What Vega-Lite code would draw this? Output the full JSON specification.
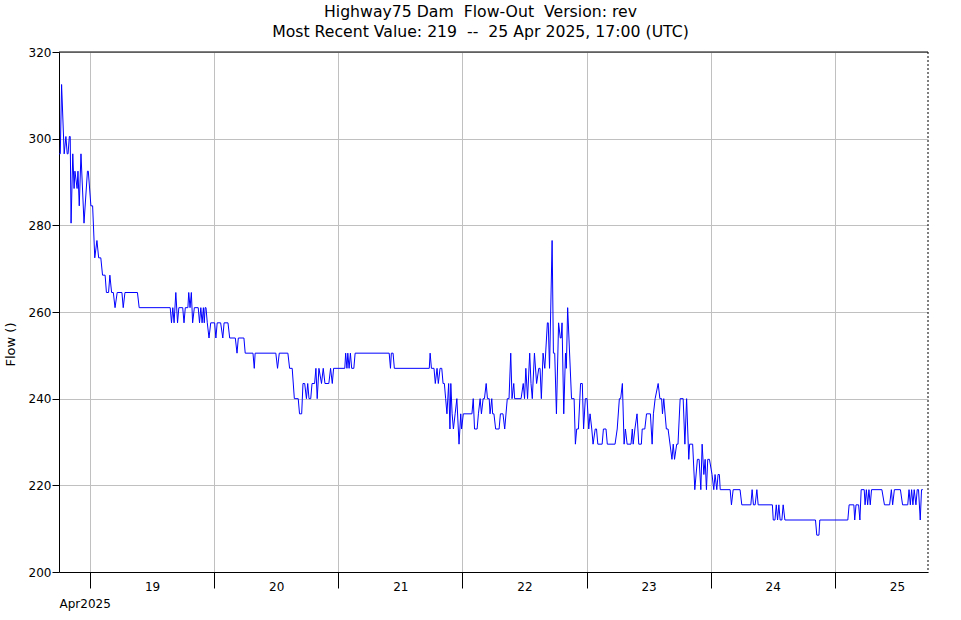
{
"$schema": "https://vega.github.io/schema/vega-lite/v6.json",
"width": 869, "height": 520,
"autosize": {"type": "none"},
"padding": {"left": 59, "top": 52, "right": 33, "bottom": 48},
"background": "white",
"title": {"text": ["Highway75 Dam\u00a0 Flow-Out\u00a0 Version: rev", "Most Recent Value: 219\u00a0 --\u00a0 25 Apr 2025, 17:00 (UTC)"], "font": "DejaVu Sans", "fontSize": 15.7, "fontWeight": "normal", "color": "black", "lineHeight": 20, "anchor": "middle", "frame": "group", "dx": -13, "offset": 5},
"config": {
 "view": {"stroke": null},
 "axis": {"domainColor": "black", "tickColor": "black", "gridColor": "#c0c0c0", "gridOpacity": 1, "gridWidth": 1, "labelColor": "black", "labelFont": "DejaVu Sans", "labelFontSize": 12, "titleFont": "DejaVu Sans", "titleFontSize": 12, "titleFontWeight": "normal", "titleColor": "black", "domainWidth": 1, "tickWidth": 1}
},
"data": {"format": {"parse": {"t": "utc:'%Y-%m-%d %H:%M'"}}, "values": [
{"t":"2025-04-18 18:00","v":296.5},{"t":"2025-04-18 18:15","v":296.5},{"t":"2025-04-18 18:30","v":312.5},{"t":"2025-04-18 19:00","v":296.5},{"t":"2025-04-18 19:20","v":300.5},{"t":"2025-04-18 19:35","v":296.5},{"t":"2025-04-18 19:45","v":296.5},{"t":"2025-04-18 20:00","v":300.5},{"t":"2025-04-18 20:10","v":300.5},{"t":"2025-04-18 20:20","v":280.5},{"t":"2025-04-18 20:40","v":296.5},{"t":"2025-04-18 20:55","v":288.5},{"t":"2025-04-18 21:05","v":292.5},{"t":"2025-04-18 21:30","v":288.5},{"t":"2025-04-18 21:40","v":292.5},{"t":"2025-04-18 21:55","v":284.5},{"t":"2025-04-18 22:15","v":296.5},{"t":"2025-04-18 22:50","v":280.5},{"t":"2025-04-18 23:30","v":292.5},{"t":"2025-04-18 23:40","v":292.5},
{"t":"2025-04-19 00:10","v":284.5},{"t":"2025-04-19 00:30","v":284.5},{"t":"2025-04-19 00:55","v":272.5},{"t":"2025-04-19 01:20","v":276.5},{"t":"2025-04-19 01:40","v":272.5},{"t":"2025-04-19 02:05","v":272.5},{"t":"2025-04-19 02:25","v":268.5},{"t":"2025-04-19 02:55","v":268.5},{"t":"2025-04-19 03:10","v":264.5},{"t":"2025-04-19 03:35","v":264.5},{"t":"2025-04-19 03:50","v":268.5},{"t":"2025-04-19 04:10","v":264.5},{"t":"2025-04-19 04:30","v":264.5},{"t":"2025-04-19 04:50","v":261},{"t":"2025-04-19 05:15","v":264.5},{"t":"2025-04-19 06:10","v":264.5},{"t":"2025-04-19 06:25","v":261},{"t":"2025-04-19 06:45","v":264.5},{"t":"2025-04-19 09:10","v":264.5},{"t":"2025-04-19 09:30","v":261},{"t":"2025-04-19 15:30","v":261},{"t":"2025-04-19 15:45","v":257.5},{"t":"2025-04-19 16:00","v":261},{"t":"2025-04-19 16:15","v":257.5},{"t":"2025-04-19 16:35","v":264.5},{"t":"2025-04-19 16:55","v":257.5},{"t":"2025-04-19 17:10","v":261},{"t":"2025-04-19 17:55","v":261},{"t":"2025-04-19 18:10","v":257.5},{"t":"2025-04-19 18:25","v":261},{"t":"2025-04-19 18:55","v":261},{"t":"2025-04-19 19:05","v":264.5},{"t":"2025-04-19 19:20","v":261},{"t":"2025-04-19 19:35","v":264.5},{"t":"2025-04-19 19:50","v":257.5},{"t":"2025-04-19 20:10","v":261},{"t":"2025-04-19 20:55","v":261},{"t":"2025-04-19 21:10","v":257.5},{"t":"2025-04-19 21:25","v":261},{"t":"2025-04-19 21:40","v":257.5},{"t":"2025-04-19 21:55","v":261},{"t":"2025-04-19 22:05","v":257.5},{"t":"2025-04-19 22:15","v":261},{"t":"2025-04-19 22:25","v":261},{"t":"2025-04-19 22:40","v":257.5},{"t":"2025-04-19 23:00","v":254},{"t":"2025-04-19 23:20","v":257.5},
{"t":"2025-04-20 00:05","v":257.5},{"t":"2025-04-20 00:20","v":254},{"t":"2025-04-20 00:35","v":257.5},{"t":"2025-04-20 01:15","v":257.5},{"t":"2025-04-20 01:40","v":254},{"t":"2025-04-20 01:55","v":257.5},{"t":"2025-04-20 02:40","v":257.5},{"t":"2025-04-20 03:00","v":254},{"t":"2025-04-20 04:05","v":254},{"t":"2025-04-20 04:25","v":250.5},{"t":"2025-04-20 04:40","v":254},{"t":"2025-04-20 05:45","v":254},{"t":"2025-04-20 06:00","v":250.5},{"t":"2025-04-20 07:30","v":250.5},{"t":"2025-04-20 07:45","v":247},{"t":"2025-04-20 07:55","v":250.5},{"t":"2025-04-20 11:55","v":250.5},{"t":"2025-04-20 12:15","v":247},{"t":"2025-04-20 12:35","v":250.5},{"t":"2025-04-20 14:15","v":250.5},{"t":"2025-04-20 14:35","v":247},{"t":"2025-04-20 15:05","v":247},{"t":"2025-04-20 15:30","v":240},{"t":"2025-04-20 16:15","v":240},{"t":"2025-04-20 16:30","v":236.5},{"t":"2025-04-20 16:55","v":236.5},{"t":"2025-04-20 17:10","v":243.5},{"t":"2025-04-20 17:30","v":243.5},{"t":"2025-04-20 17:50","v":240},{"t":"2025-04-20 18:05","v":243.5},{"t":"2025-04-20 18:20","v":240},{"t":"2025-04-20 18:40","v":240},{"t":"2025-04-20 18:55","v":243.5},{"t":"2025-04-20 19:25","v":243.5},{"t":"2025-04-20 19:40","v":247},{"t":"2025-04-20 19:55","v":240},{"t":"2025-04-20 20:15","v":247},{"t":"2025-04-20 20:45","v":243.5},{"t":"2025-04-20 21:05","v":247},{"t":"2025-04-20 21:25","v":243.5},{"t":"2025-04-20 22:10","v":243.5},{"t":"2025-04-20 22:30","v":247},{"t":"2025-04-20 22:50","v":243.5},{"t":"2025-04-20 23:05","v":247},
{"t":"2025-04-21 01:15","v":247},{"t":"2025-04-21 01:25","v":250.5},{"t":"2025-04-21 01:40","v":247},{"t":"2025-04-21 01:50","v":250.5},{"t":"2025-04-21 02:05","v":247},{"t":"2025-04-21 02:20","v":250.5},{"t":"2025-04-21 02:35","v":247},{"t":"2025-04-21 03:00","v":247},{"t":"2025-04-21 03:15","v":250.5},{"t":"2025-04-21 09:50","v":250.5},{"t":"2025-04-21 10:05","v":247},{"t":"2025-04-21 10:15","v":250.5},{"t":"2025-04-21 10:35","v":250.5},{"t":"2025-04-21 10:50","v":247},{"t":"2025-04-21 17:35","v":247},{"t":"2025-04-21 17:45","v":250.5},{"t":"2025-04-21 18:00","v":247},{"t":"2025-04-21 18:30","v":247},{"t":"2025-04-21 18:45","v":243.5},{"t":"2025-04-21 19:05","v":247},{"t":"2025-04-21 19:20","v":243.5},{"t":"2025-04-21 19:40","v":247},{"t":"2025-04-21 20:00","v":247},{"t":"2025-04-21 20:15","v":243.5},{"t":"2025-04-21 20:30","v":243.5},{"t":"2025-04-21 20:45","v":240},{"t":"2025-04-21 21:00","v":236.5},{"t":"2025-04-21 21:20","v":243.5},{"t":"2025-04-21 21:35","v":233},{"t":"2025-04-21 21:45","v":243.5},{"t":"2025-04-21 22:00","v":236.5},{"t":"2025-04-21 22:15","v":233},{"t":"2025-04-21 22:35","v":236.5},{"t":"2025-04-21 22:55","v":240},{"t":"2025-04-21 23:20","v":229.5},{"t":"2025-04-21 23:40","v":236.5},{"t":"2025-04-21 23:50","v":233},
{"t":"2025-04-22 00:10","v":236.5},{"t":"2025-04-22 01:50","v":236.5},{"t":"2025-04-22 02:05","v":240},{"t":"2025-04-22 02:20","v":233},{"t":"2025-04-22 02:50","v":233},{"t":"2025-04-22 03:05","v":236.5},{"t":"2025-04-22 03:25","v":240},{"t":"2025-04-22 03:40","v":236.5},{"t":"2025-04-22 04:00","v":240},{"t":"2025-04-22 04:15","v":240},{"t":"2025-04-22 04:35","v":243.5},{"t":"2025-04-22 04:50","v":240},{"t":"2025-04-22 05:10","v":240},{"t":"2025-04-22 05:20","v":236.5},{"t":"2025-04-22 05:40","v":240},{"t":"2025-04-22 05:50","v":236.5},{"t":"2025-04-22 06:05","v":236.5},{"t":"2025-04-22 06:25","v":233},{"t":"2025-04-22 07:05","v":233},{"t":"2025-04-22 07:20","v":236.5},{"t":"2025-04-22 07:50","v":236.5},{"t":"2025-04-22 08:10","v":233},{"t":"2025-04-22 08:40","v":240},{"t":"2025-04-22 09:00","v":240},{"t":"2025-04-22 09:20","v":250.5},{"t":"2025-04-22 09:35","v":240},{"t":"2025-04-22 09:55","v":243.5},{"t":"2025-04-22 10:05","v":240},{"t":"2025-04-22 11:20","v":240},{"t":"2025-04-22 11:45","v":243.5},{"t":"2025-04-22 12:00","v":240},{"t":"2025-04-22 12:15","v":247},{"t":"2025-04-22 12:35","v":240},{"t":"2025-04-22 13:00","v":250.5},{"t":"2025-04-22 13:15","v":243.5},{"t":"2025-04-22 13:30","v":240},{"t":"2025-04-22 13:55","v":250.5},{"t":"2025-04-22 14:20","v":243.5},{"t":"2025-04-22 14:45","v":247},{"t":"2025-04-22 15:00","v":247},{"t":"2025-04-22 15:15","v":240},{"t":"2025-04-22 15:35","v":250.5},{"t":"2025-04-22 15:55","v":247},{"t":"2025-04-22 16:25","v":257.5},{"t":"2025-04-22 16:35","v":257.5},{"t":"2025-04-22 16:50","v":247},{"t":"2025-04-22 17:20","v":276.5},{"t":"2025-04-22 17:35","v":250.5},{"t":"2025-04-22 17:50","v":250.5},{"t":"2025-04-22 18:10","v":236.5},{"t":"2025-04-22 18:35","v":257.5},{"t":"2025-04-22 18:55","v":254},{"t":"2025-04-22 19:05","v":254},{"t":"2025-04-22 19:15","v":257.5},{"t":"2025-04-22 19:35","v":236.5},{"t":"2025-04-22 19:55","v":250.5},{"t":"2025-04-22 20:05","v":247},{"t":"2025-04-22 20:20","v":261},{"t":"2025-04-22 21:05","v":240},{"t":"2025-04-22 21:35","v":240},{"t":"2025-04-22 21:50","v":229.5},{"t":"2025-04-22 22:05","v":233},{"t":"2025-04-22 22:25","v":233},{"t":"2025-04-22 22:50","v":243.5},{"t":"2025-04-22 23:10","v":243.5},{"t":"2025-04-22 23:25","v":233},{"t":"2025-04-22 23:45","v":240},
{"t":"2025-04-23 00:05","v":240},{"t":"2025-04-23 00:25","v":233},{"t":"2025-04-23 00:40","v":236.5},{"t":"2025-04-23 01:00","v":233},{"t":"2025-04-23 01:15","v":229.5},{"t":"2025-04-23 01:40","v":233},{"t":"2025-04-23 01:55","v":233},{"t":"2025-04-23 02:10","v":229.5},{"t":"2025-04-23 03:00","v":229.5},{"t":"2025-04-23 03:15","v":233},{"t":"2025-04-23 03:45","v":233},{"t":"2025-04-23 04:00","v":229.5},{"t":"2025-04-23 05:30","v":229.5},{"t":"2025-04-23 05:55","v":233},{"t":"2025-04-23 06:20","v":240},{"t":"2025-04-23 06:35","v":240},{"t":"2025-04-23 06:55","v":243.5},{"t":"2025-04-23 07:15","v":229.5},{"t":"2025-04-23 07:30","v":233},{"t":"2025-04-23 07:50","v":229.5},{"t":"2025-04-23 08:35","v":229.5},{"t":"2025-04-23 08:50","v":233},{"t":"2025-04-23 09:00","v":229.5},{"t":"2025-04-23 09:20","v":233},{"t":"2025-04-23 09:45","v":236.5},{"t":"2025-04-23 10:05","v":229.5},{"t":"2025-04-23 10:35","v":229.5},{"t":"2025-04-23 10:45","v":233},{"t":"2025-04-23 11:15","v":233},{"t":"2025-04-23 11:35","v":236.5},{"t":"2025-04-23 12:20","v":236.5},{"t":"2025-04-23 12:40","v":229.5},{"t":"2025-04-23 12:55","v":236.5},{"t":"2025-04-23 13:15","v":240},{"t":"2025-04-23 13:50","v":243.5},{"t":"2025-04-23 14:10","v":240},{"t":"2025-04-23 14:30","v":240},{"t":"2025-04-23 14:40","v":236.5},{"t":"2025-04-23 14:55","v":240},{"t":"2025-04-23 15:25","v":233},{"t":"2025-04-23 15:45","v":233},{"t":"2025-04-23 16:30","v":226},{"t":"2025-04-23 16:45","v":229.5},{"t":"2025-04-23 17:00","v":226},{"t":"2025-04-23 17:25","v":229.5},{"t":"2025-04-23 17:40","v":229.5},{"t":"2025-04-23 18:05","v":240},{"t":"2025-04-23 18:40","v":240},{"t":"2025-04-23 19:00","v":229.5},{"t":"2025-04-23 19:20","v":240},{"t":"2025-04-23 19:45","v":226},{"t":"2025-04-23 19:55","v":229.5},{"t":"2025-04-23 20:30","v":229.5},{"t":"2025-04-23 20:55","v":219},{"t":"2025-04-23 21:25","v":226},{"t":"2025-04-23 21:45","v":226},{"t":"2025-04-23 22:05","v":219},{"t":"2025-04-23 22:20","v":229.5},{"t":"2025-04-23 22:40","v":222.5},{"t":"2025-04-23 22:55","v":226},{"t":"2025-04-23 23:10","v":219},{"t":"2025-04-23 23:25","v":226},{"t":"2025-04-23 23:45","v":226},
{"t":"2025-04-24 00:15","v":222.5},{"t":"2025-04-24 00:35","v":219},{"t":"2025-04-24 00:50","v":222.5},{"t":"2025-04-24 01:10","v":219},{"t":"2025-04-24 01:25","v":222.5},{"t":"2025-04-24 01:40","v":222.5},{"t":"2025-04-24 01:50","v":219},{"t":"2025-04-24 03:45","v":219},{"t":"2025-04-24 04:00","v":215.5},{"t":"2025-04-24 04:20","v":219},{"t":"2025-04-24 05:40","v":219},{"t":"2025-04-24 06:00","v":215.5},{"t":"2025-04-24 07:45","v":215.5},{"t":"2025-04-24 08:00","v":219},{"t":"2025-04-24 08:15","v":215.5},{"t":"2025-04-24 08:35","v":215.5},{"t":"2025-04-24 08:55","v":219},{"t":"2025-04-24 09:10","v":215.5},{"t":"2025-04-24 11:55","v":215.5},{"t":"2025-04-24 12:05","v":212},{"t":"2025-04-24 12:25","v":212},{"t":"2025-04-24 12:40","v":215.5},{"t":"2025-04-24 12:55","v":212},{"t":"2025-04-24 13:10","v":215.5},{"t":"2025-04-24 13:25","v":212},{"t":"2025-04-24 13:45","v":212},{"t":"2025-04-24 14:00","v":215.5},{"t":"2025-04-24 14:20","v":212},{"t":"2025-04-24 20:15","v":212},{"t":"2025-04-24 20:30","v":208.5},{"t":"2025-04-24 20:55","v":208.5},{"t":"2025-04-24 21:05","v":212},
{"t":"2025-04-25 02:30","v":212},{"t":"2025-04-25 02:45","v":215.5},{"t":"2025-04-25 03:40","v":215.5},{"t":"2025-04-25 03:50","v":212},{"t":"2025-04-25 04:05","v":215.5},{"t":"2025-04-25 04:35","v":215.5},{"t":"2025-04-25 04:50","v":212},{"t":"2025-04-25 05:05","v":219},{"t":"2025-04-25 05:40","v":219},{"t":"2025-04-25 05:50","v":215.5},{"t":"2025-04-25 06:05","v":219},{"t":"2025-04-25 06:20","v":215.5},{"t":"2025-04-25 06:35","v":219},{"t":"2025-04-25 06:50","v":215.5},{"t":"2025-04-25 07:05","v":219},{"t":"2025-04-25 09:05","v":219},{"t":"2025-04-25 09:35","v":215.5},{"t":"2025-04-25 10:35","v":215.5},{"t":"2025-04-25 10:55","v":219},{"t":"2025-04-25 11:10","v":215.5},{"t":"2025-04-25 11:30","v":219},{"t":"2025-04-25 12:40","v":219},{"t":"2025-04-25 13:05","v":215.5},{"t":"2025-04-25 14:05","v":215.5},{"t":"2025-04-25 14:20","v":219},{"t":"2025-04-25 14:35","v":215.5},{"t":"2025-04-25 14:50","v":219},{"t":"2025-04-25 15:05","v":215.5},{"t":"2025-04-25 15:20","v":219},{"t":"2025-04-25 15:40","v":215.5},{"t":"2025-04-25 15:55","v":219},{"t":"2025-04-25 16:10","v":219},{"t":"2025-04-25 16:30","v":212},{"t":"2025-04-25 16:45","v":219},{"t":"2025-04-25 17:00","v":219}
]},
"layer": [
 {"mark": {"type": "line", "color": "#0000ff", "strokeWidth": 1},
  "encoding": {
   "x": {"field": "t", "type": "temporal",
    "scale": {"type": "utc", "domain": [{"year": 2025, "month": 4, "date": 18, "hours": 18, "utc": true}, {"year": 2025, "month": 4, "date": 25, "hours": 18, "utc": true}]},
    "axis": {"values": [{"year": 2025, "month": 4, "date": 19, "utc": true}, {"year": 2025, "month": 4, "date": 20, "utc": true}, {"year": 2025, "month": 4, "date": 21, "utc": true}, {"year": 2025, "month": 4, "date": 22, "utc": true}, {"year": 2025, "month": 4, "date": 23, "utc": true}, {"year": 2025, "month": 4, "date": 24, "utc": true}, {"year": 2025, "month": 4, "date": 25, "utc": true}],
     "labelExpr": "utcFormat(datum.value, '%-d')", "labelOffset": 62, "tickSize": 16, "labelPadding": -7, "labelOverlap": false, "labelFlush": false, "labelBaseline": "top",
     "grid": true, "title": "Apr2025", "titleX": 0, "titleY": 35, "titleAnchor": "start", "titleAlign": "left", "titleBaseline": "alphabetic"}},
   "y": {"field": "v", "type": "quantitative",
    "scale": {"domain": [200, 320], "nice": false, "zero": false},
    "axis": {"values": [200, 220, 240, 260, 280, 300, 320], "tickSize": 7, "labelPadding": 1, "grid": true, "labelFlush": false,
     "title": "Flow ()", "titleX": -49, "titleY": 292, "titleAngle": -90, "titleAlign": "center", "titleBaseline": "middle", "titleFontSize": 13}}
  }},
 {"data": {"values": [{}]}, "mark": {"type": "rule", "color": "black", "strokeWidth": 1},
  "encoding": {"y": {"datum": 320, "type": "quantitative"}}},
 {"data": {"values": [{}]}, "mark": {"type": "rule", "color": "black", "strokeWidth": 1, "strokeDash": [2, 2]},
  "encoding": {"x": {"datum": {"year": 2025, "month": 4, "date": 25, "hours": 18, "utc": true}, "type": "temporal"}}}
]
}
